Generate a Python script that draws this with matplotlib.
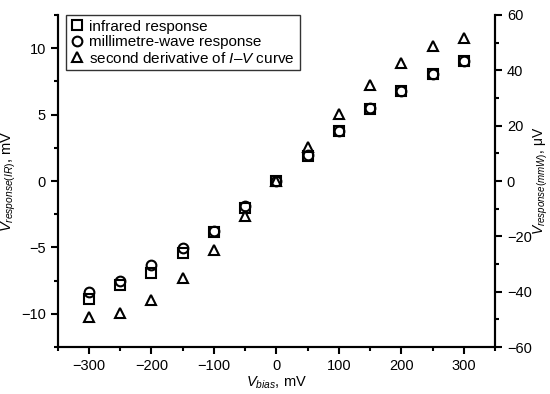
import matplotlib
matplotlib.use("Agg")
import matplotlib.pyplot as plt
from matplotlib.ticker import MultipleLocator

plt.rcParams['font.family'] = ['Liberation Sans', 'DejaVu Sans']
plt.rcParams['mathtext.fontset'] = 'custom'
plt.rcParams['mathtext.rm'] = 'Liberation Sans'
plt.rcParams['mathtext.it'] = 'Liberation Sans:italic'
plt.rcParams['font.size'] = 10

# bias voltage, mV
v_bias = [-300, -250, -200, -150, -100, -50, 0, 50, 100, 150, 200, 250, 300]
# infrared response, mV (left axis)
ir_resp = [-8.9, -7.8, -6.9, -5.45, -3.85, -2.0, 0.0, 1.9, 3.8, 5.45, 6.8, 8.05, 9.05]
# millimetre-wave response, uV (right axis)
mmw_resp = [-40.0, -36.0, -30.2, -24.2, -18.2, -9.1, 0.0, 9.4, 18.2, 26.4, 32.6, 38.6, 43.4]
# second derivative of I-V curve, scaled to left axis
d2iv = [-10.2, -9.9, -8.95, -7.3, -5.2, -2.6, 0.0, 2.6, 5.05, 7.25, 8.9, 10.2, 10.8]

fig = plt.figure(figsize=(5.5, 3.94), dpi=100)
ax = fig.add_axes([0.105, 0.119, 0.795, 0.843])
ax2 = ax.twinx()

mk = dict(linestyle='none', mfc='white', mec='black', mew=1.5, ms=7)
h1, = ax.plot(v_bias, ir_resp, marker='s', label='infrared response', **mk)
h3, = ax.plot(v_bias, d2iv, marker='^', label='second derivative of $I$–$V$ curve', **mk)
h2, = ax2.plot(v_bias, mmw_resp, marker='o', label='millimetre-wave response', **mk)
h2.set_mfc('none')

ax.set_xlim(-350, 350)
ax.set_ylim(-12.5, 12.5)
ax2.set_ylim(-60, 60)

ax.xaxis.set_major_locator(MultipleLocator(100))
ax.xaxis.set_minor_locator(MultipleLocator(50))
ax.yaxis.set_major_locator(MultipleLocator(5))
ax.yaxis.set_minor_locator(MultipleLocator(2.5))
ax2.yaxis.set_major_locator(MultipleLocator(20))
ax2.yaxis.set_minor_locator(MultipleLocator(10))

for a in (ax, ax2):
    a.spines['top'].set_visible(False)
    for s in a.spines.values():
        s.set_linewidth(1.5)
    a.tick_params(which='both', direction='out', width=1.5, labelsize=10.5)
    a.tick_params(which='major', length=5)
    a.tick_params(which='minor', length=3)

ax.set_xlabel('$V_{bias}$, mV', labelpad=1, fontsize=10.5)
ax.set_ylabel('$V_{response(IR)}$, mV', labelpad=2, fontsize=10.5)
ax2.set_ylabel('$V_{response(mmW)}$, μV', rotation=90, labelpad=0, fontsize=10)

leg = ax.legend([h1, h2, h3], [h1.get_label(), h2.get_label(), h3.get_label()],
                loc='upper left', bbox_to_anchor=(0.02, 1.0), frameon=True, fancybox=False,
                edgecolor='black', handlelength=0.8, handletextpad=0.4,
                borderpad=0.3, labelspacing=0.1, borderaxespad=0.0, fontsize=11)
leg.get_frame().set_linewidth(1.0)
for h in leg.legend_handles:
    h.set_markersize(7)

fig.savefig('out.png', dpi=100)
